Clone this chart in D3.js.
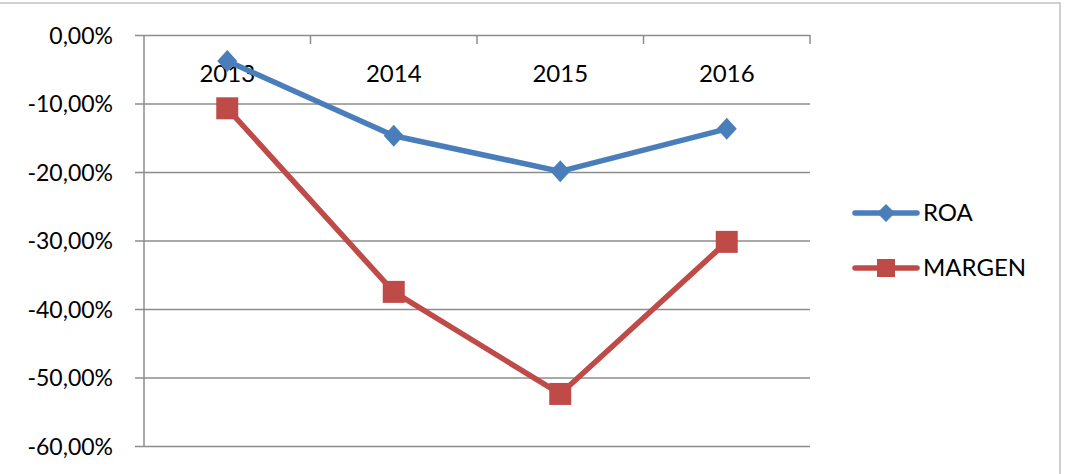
<!DOCTYPE html>
<html>
<head>
<meta charset="utf-8">
<script src="https://d3js.org/d3.v7.min.js"></script>
<style>
  body { margin: 0; background: #fff; }
  svg text { font-family: Lato, "Open Sans", sans-serif; fill: #000; }
</style>
</head>
<body>
<div id="chart"></div>
<script>
// Data
const years = ["2013", "2014", "2015", "2016"];
const roa = [-3.8, -14.7, -19.9, -13.7];
const margen = [-10.7, -37.5, -52.4, -30.2];
const yTicks = [0, -10, -20, -30, -40, -50, -60];
const seriesNames = ["ROA", "MARGEN"];

const width = 1069, height = 474;
const svg = d3.select("#chart").append("svg")
  .attr("width", width)
  .attr("height", height);

// outer chart frame
svg.append("rect")
  .attr("x", -2).attr("y", 3)
  .attr("width", 1062).attr("height", 480)
  .attr("fill", "none")
  .attr("stroke", "#d0d0d0")
  .attr("stroke-width", 2);

const plot = { left: 144, right: 810, top: 35, bottom: 446 };

const x = d3.scaleBand()
  .domain(years)
  .range([plot.left, plot.right]);

const y = d3.scaleLinear()
  .domain([-60, 0])
  .range([plot.bottom, plot.top]);

// excel style: comma decimal, plain hyphen
const fmt = v => (v < 0 ? "-" : "") + Math.abs(v).toFixed(2).replace(".", ",") + "%";

// gridlines + y axis
const yAxis = svg.append("g")
  .attr("transform", `translate(${plot.left},0)`)
  .call(d3.axisLeft(y)
    .tickValues(yTicks)
    .tickSize(-(plot.right - plot.left))
    .tickFormat(fmt)
    .tickPadding(31));
yAxis.select(".domain").remove();
yAxis.selectAll(".tick line")
  .attr("x1", -9)
  .attr("stroke", "#8c8c8c")
  .attr("stroke-width", 1.5);
yAxis.selectAll(".tick text")
  .style("font-size", "23px")
  .attr("dy", "0.35em");

// vertical axis line
svg.append("line")
  .attr("x1", plot.left).attr("x2", plot.left)
  .attr("y1", plot.top).attr("y2", plot.bottom)
  .attr("stroke", "#8c8c8c")
  .attr("stroke-width", 1.5);

// category axis sits at 0%, ticks pointing down
const xAxis = svg.append("g")
  .attr("transform", `translate(0,${y(0)})`)
  .call(d3.axisBottom(x).tickSize(0).tickPadding(30));
xAxis.select(".domain").remove();
xAxis.selectAll(".tick text").style("font-size", "24px");

svg.append("g")
  .selectAll("line")
  .data(years)
  .join("line")
  .attr("x1", d => x(d) + x.bandwidth())
  .attr("x2", d => x(d) + x.bandwidth())
  .attr("y1", y(0))
  .attr("y2", y(0) + 9)
  .attr("stroke", "#8c8c8c")
  .attr("stroke-width", 1.5);

const cx = d => x(d) + x.bandwidth() / 2;

const series = [
  { name: seriesNames[0], values: roa, color: "#4a7ebb", marker: "diamond" },
  { name: seriesNames[1], values: margen, color: "#be4b48", marker: "square" }
];

const line = d3.line()
  .x((d, i) => cx(years[i]))
  .y(d => y(d));

const drawMarker = (g, type, color, px, py) => {
  if (type === "square") {
    g.append("rect")
      .attr("x", px - 11).attr("y", py - 11)
      .attr("width", 22).attr("height", 22)
      .attr("fill", color);
  } else {
    g.append("path")
      .attr("d", `M${px},${py - 11}L${px + 10},${py}L${px},${py + 11}L${px - 10},${py}Z`)
      .attr("fill", color);
  }
};

series.forEach(s => {
  const g = svg.append("g");
  g.append("path")
    .datum(s.values)
    .attr("d", line)
    .attr("fill", "none")
    .attr("stroke", s.color)
    .attr("stroke-width", 5.5)
    .attr("stroke-linejoin", "round");
  s.values.forEach((v, i) => drawMarker(g, s.marker, s.color, cx(years[i]), y(v)));
});

// legend
const legend = svg.append("g");
series.forEach((s, i) => {
  const ly = 213 + i * 55;
  legend.append("line")
    .attr("x1", 855).attr("x2", 917)
    .attr("y1", ly).attr("y2", ly)
    .attr("stroke", s.color)
    .attr("stroke-width", 5.5)
    .attr("stroke-linecap", "round");
  const m = legend.append("g");
  if (s.marker === "square") {
    m.append("rect").attr("x", 877).attr("y", ly - 9).attr("width", 18).attr("height", 18).attr("fill", s.color);
  } else {
    m.append("path").attr("d", `M886,${ly - 9}L895,${ly}L886,${ly + 9}L877,${ly}Z`).attr("fill", s.color);
  }
  legend.append("text")
    .attr("x", 923).attr("y", ly)
    .attr("dy", "0.35em")
    .style("font-size", "24px")
    .text(s.name);
});
</script>
</body>
</html>
